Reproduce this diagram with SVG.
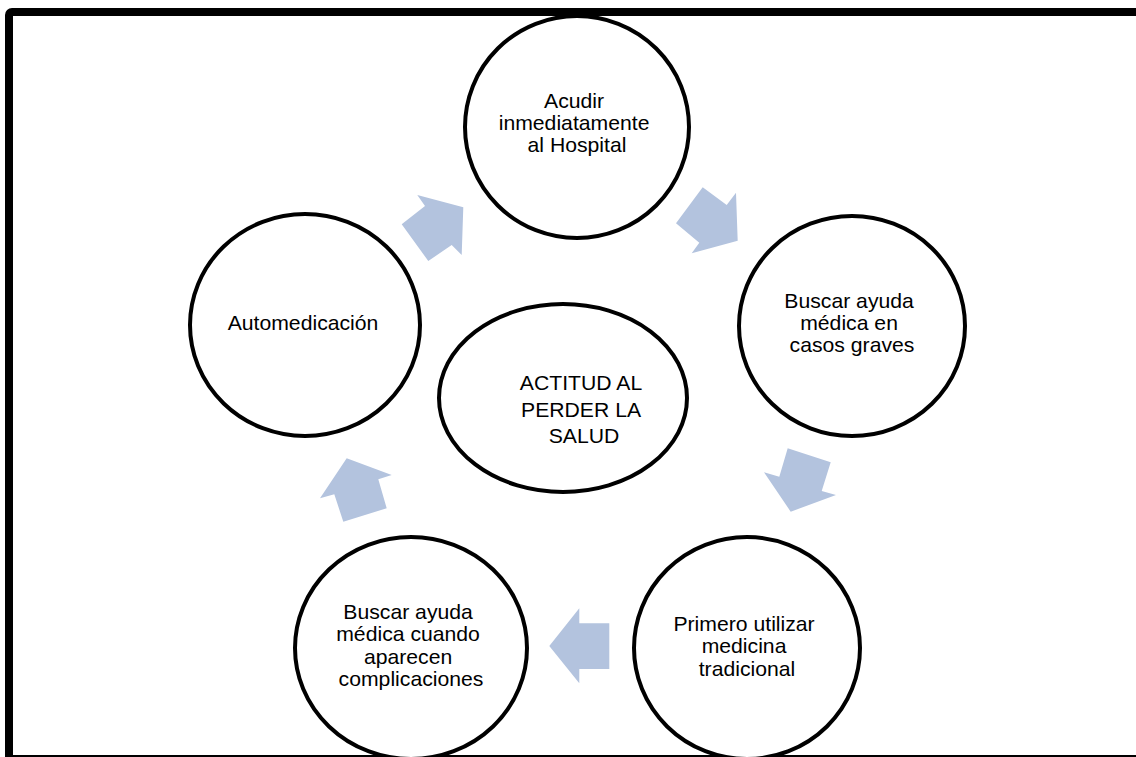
<svg xmlns="http://www.w3.org/2000/svg" width="1136" height="757" viewBox="0 0 1136 757">
  <style>
    .node { fill: #ffffff; stroke: #000000; stroke-width: 4; }
    .label { font-family: "Liberation Sans", Arial, sans-serif; font-size: 20px; fill: #000000; text-anchor: middle; }
    .flow { fill: #b3c3de; stroke: none; }
    .frame { fill: none; stroke: #000000; stroke-width: 8; }
  </style>

  <rect x="0" y="0" width="1136" height="757" fill="#ffffff"/>

  <!-- outer frame (right side runs past the canvas edge) -->
  <rect class="frame" x="9" y="12" width="1140" height="747" rx="3"/>

  <!-- cycle arrows -->
  <g id="connectors">
    <polygon class="flow" points="425,206 417.3,195 463.3,207.3 461.7,255 451.7,245 428.3,261 401.7,224.3"/>
    <polygon class="flow" points="702.7,187.3 726.7,205 736,192.7 737.7,240.7 691.7,253.3 699.3,242.7 676,223.3"/>
    <polygon class="flow" points="787.7,448.3 830.7,462.3 821.7,491 836,495 790.7,511.7 764,472.3 779.3,476.7"/>
    <polygon class="flow" points="609.3,623.3 579.3,623.3 579.3,608.3 549.3,646 579.3,683.3 579.3,669 609.3,669"/>
    <polygon class="flow" points="346.7,458.3 391.7,475 378.3,479.3 386.7,508.3 343.3,521.7 334.3,494.3 320,498.3"/>
  </g>

  <g id="node-hospital">
    <ellipse class="node" cx="577" cy="127" rx="112" ry="111"/>
    <text class="label" transform="translate(577 0) scale(1.06 1)">
      <tspan x="0" y="108">Acudir</tspan>
      <tspan x="0" y="130">inmediatamente</tspan>
      <tspan x="0" y="152">al Hospital</tspan>
    </text>
  </g>

  <g id="node-casos-graves">
    <ellipse class="node" cx="852" cy="326" rx="113" ry="110"/>
    <text class="label" transform="translate(852 0) scale(1.06 1)">
      <tspan x="0" y="308">Buscar ayuda</tspan>
      <tspan x="0" y="330">médica en</tspan>
      <tspan x="0" y="352">casos graves</tspan>
    </text>
  </g>

  <g id="node-tradicional">
    <ellipse class="node" cx="747" cy="648" rx="113" ry="111"/>
    <text class="label" transform="translate(747 0) scale(1.06 1)">
      <tspan x="0" y="631">Primero utilizar</tspan>
      <tspan x="0" y="653">medicina</tspan>
      <tspan x="0" y="676">tradicional</tspan>
    </text>
  </g>

  <g id="node-complicaciones">
    <ellipse class="node" cx="411" cy="648" rx="116" ry="111"/>
    <text class="label" transform="translate(411 0) scale(1.06 1)">
      <tspan x="0" y="619">Buscar ayuda</tspan>
      <tspan x="0" y="641">médica cuando</tspan>
      <tspan x="0" y="664">aparecen</tspan>
      <tspan x="0" y="686">complicaciones</tspan>
    </text>
  </g>

  <g id="node-automedicacion">
    <ellipse class="node" cx="305" cy="325" rx="115" ry="111"/>
    <text class="label" transform="translate(303 0) scale(1.06 1)">
      <tspan x="0" y="330">Automedicación</tspan>
    </text>
  </g>

  <g id="node-actitud">
    <ellipse class="node" cx="563" cy="398" rx="124" ry="94"/>
    <text class="label" transform="translate(584 0) scale(1.06 1)">
      <tspan x="0" y="390">ACTITUD AL</tspan>
      <tspan x="0" y="417">PERDER LA</tspan>
      <tspan x="0" y="443">SALUD</tspan>
    </text>
  </g>
</svg>
